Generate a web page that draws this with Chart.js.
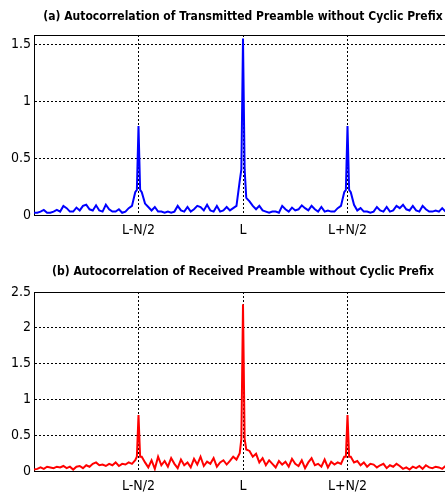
<!DOCTYPE html>
<html>
<head>
<meta charset="utf-8">
<script src="https://cdn.jsdelivr.net/npm/chart.js@4.4.1/dist/chart.umd.min.js"></script>
<style>
  html, body { margin: 0; padding: 0; background: #fff; overflow: hidden; }
  #wrap { position: relative; width: 445px; height: 495px; overflow: hidden; background: #fff; }
  #top { position: absolute; left: 0; top: 0; }
  #bottom { position: absolute; left: 0; top: 250px; }
</style>
</head>
<body>
<div id="wrap">
  <canvas id="top" width="452" height="250"></canvas>
  <canvas id="bottom" width="452" height="245"></canvas>
</div>
<script>
// samples are 2 apart, x runs from L-N (0) to L+N (256)
const sampleStep = 2;
const tickSamples = [64, 128, 192];
const tickLabels = ["L-N/2", "L", "L+N/2"];

const topTicks = [0, 0.5, 1, 1.5];
const bottomTicks = [0, 0.5, 1, 1.5, 2, 2.5];

const transmitted = [
  0.02, 0.02, 0.03, 0.045, 0.02, 0.02, 0.03, 0.045, 0.03, 0.08, 0.06, 0.03, 0.03, 0.065, 0.04, 0.08,
  0.09, 0.05, 0.04, 0.085, 0.04, 0.03, 0.09, 0.05, 0.03, 0.03, 0.05, 0.02, 0.03, 0.06, 0.08, 0.2,
  0.78,
  0.2, 0.1, 0.07, 0.04, 0.07, 0.03, 0.03, 0.02, 0.03, 0.02, 0.03, 0.08, 0.04, 0.03, 0.07, 0.03,
  0.05, 0.08, 0.07, 0.04, 0.09, 0.04, 0.03, 0.08, 0.03, 0.04, 0.07, 0.04, 0.06, 0.08, 0.3,
  1.55,
  0.15, 0.12, 0.08, 0.05, 0.08, 0.04, 0.03, 0.02, 0.03, 0.03, 0.02, 0.08, 0.05, 0.03, 0.065, 0.04,
  0.05, 0.085, 0.06, 0.04, 0.08, 0.05, 0.03, 0.07, 0.03, 0.04, 0.03, 0.03, 0.06, 0.08, 0.2,
  0.78,
  0.2, 0.09, 0.04, 0.06, 0.03, 0.03, 0.02, 0.03, 0.07, 0.04, 0.03, 0.07, 0.03, 0.04, 0.08,
  0.06, 0.09, 0.05, 0.04, 0.08, 0.04, 0.03, 0.08, 0.05, 0.03, 0.03, 0.04, 0.03, 0.06, 0.03
];
// odd samples right beside the peaks: [sample, value]
const transmittedPeakSides = [[63, 0.22], [65, 0.22], [127, 0.4], [129, 0.4], [191, 0.22], [193, 0.22]];

const received = [
  0.02, 0.03, 0.05, 0.03, 0.06, 0.05, 0.04, 0.06, 0.05, 0.07, 0.04, 0.06, 0.02, 0.06, 0.07, 0.04,
  0.08, 0.06, 0.1, 0.12, 0.08, 0.09, 0.07, 0.1, 0.08, 0.12, 0.07, 0.1, 0.09, 0.12, 0.1, 0.15,
  0.78,
  0.2, 0.12, 0.05, 0.15, 0.03, 0.2, 0.08, 0.14, 0.06, 0.18, 0.1, 0.04, 0.16, 0.08, 0.12, 0.05,
  0.17, 0.09, 0.2, 0.07, 0.13, 0.1, 0.18, 0.06, 0.12, 0.15, 0.09, 0.14, 0.2, 0.16, 0.25,
  2.33,
  0.3, 0.28, 0.2, 0.24, 0.12, 0.18, 0.08, 0.15, 0.1, 0.05, 0.14, 0.09, 0.13, 0.06, 0.17, 0.1,
  0.07, 0.15, 0.04, 0.12, 0.18, 0.08, 0.1, 0.06, 0.16, 0.05, 0.13, 0.09, 0.12, 0.1, 0.2,
  0.78,
  0.2, 0.12, 0.14, 0.08, 0.12, 0.06, 0.1, 0.09, 0.05, 0.08, 0.1, 0.04, 0.08, 0.06, 0.1,
  0.07, 0.03, 0.05, 0.02, 0.06, 0.04, 0.07, 0.03, 0.08, 0.05, 0.04, 0.06, 0.05, 0.03, 0.07
];
const receivedPeakSides = [[63, 0.2], [65, 0.2], [127, 0.45], [129, 0.45], [191, 0.2], [193, 0.2]];

const FONT = '"Liberation Sans Narrow", "Arial Narrow", "DejaVu Sans Condensed", sans-serif';

function toPoints(values, sides) {
  const pts = values.map((v, i) => ({ x: i * sampleStep, y: v }));
  sides.forEach(([x, y]) => pts.push({ x, y }));
  return pts.sort((a, b) => a.x - b.x);
}

// solid box round the plot area, drawn under the line
const frame = {
  id: "frame",
  beforeDatasetsDraw(chart) {
    const a = chart.chartArea;
    const ctx = chart.ctx;
    ctx.save();
    ctx.strokeStyle = "#000";
    ctx.lineWidth = 1;
    ctx.strokeRect(Math.round(a.left) + 0.5, Math.round(a.top) + 0.5, a.right - a.left, a.bottom - a.top);
    ctx.restore();
  }
};

function makeChart(id, title, values, sides, color, yMax, yTicks, titlePad, xHeight) {
  return new Chart(document.getElementById(id), {
    type: "line",
    data: {
      datasets: [{
        data: toPoints(values, sides),
        borderColor: color,
        borderWidth: 2,
        pointRadius: 0,
        tension: 0,
        fill: false
      }]
    },
    options: {
      responsive: false,
      animation: false,
      layout: { padding: 0 },
      plugins: {
        legend: { display: false },
        tooltip: { enabled: false },
        title: {
          display: true,
          text: title,
          fullSize: false,
          color: "#000",
          font: { family: FONT, size: 12, weight: "bold", lineHeight: 1 },
          padding: titlePad
        }
      },
      scales: {
        x: {
          type: "linear",
          min: 0,
          max: 256,
          afterBuildTicks: s => { s.ticks = tickSamples.map(v => ({ value: v })); },
          afterFit: s => { s.height = xHeight; },
          ticks: {
            callback: v => tickLabels[tickSamples.indexOf(v)],
            color: "#000",
            font: { family: FONT, size: 14 },
            padding: 7,
            maxRotation: 0,
            autoSkip: false
          },
          grid: { color: "#000", lineWidth: 1, drawTicks: false },
          border: { display: true, color: "#000", dash: [2, 2] }
        },
        y: {
          min: 0,
          max: yMax,
          afterBuildTicks: s => { s.ticks = yTicks.map(v => ({ value: v })); },
          afterFit: s => { s.width = 34; },
          ticks: {
            callback: v => String(v),
            color: "#000",
            font: { family: FONT, size: 14 },
            padding: 3
          },
          grid: {
            color: c => (c.tick && c.tick.value >= yMax ? "rgba(0,0,0,0)" : "#000"),
            lineWidth: 1,
            drawTicks: false
          },
          border: { display: true, color: "#000", dash: [2, 2] }
        }
      }
    },
    plugins: [frame]
  });
}

makeChart("top", "(a) Autocorrelation of Transmitted Preamble without Cyclic Prefix",
  transmitted, transmittedPeakSides, "#0000ff", 1.58, topTicks, { top: 11, bottom: 12 }, 35);

makeChart("bottom", "(b) Autocorrelation of Received Preamble without Cyclic Prefix",
  received, receivedPeakSides, "#ff0000", 2.5, bottomTicks, { top: 16, bottom: 14 }, 24);
</script>
</body>
</html>
